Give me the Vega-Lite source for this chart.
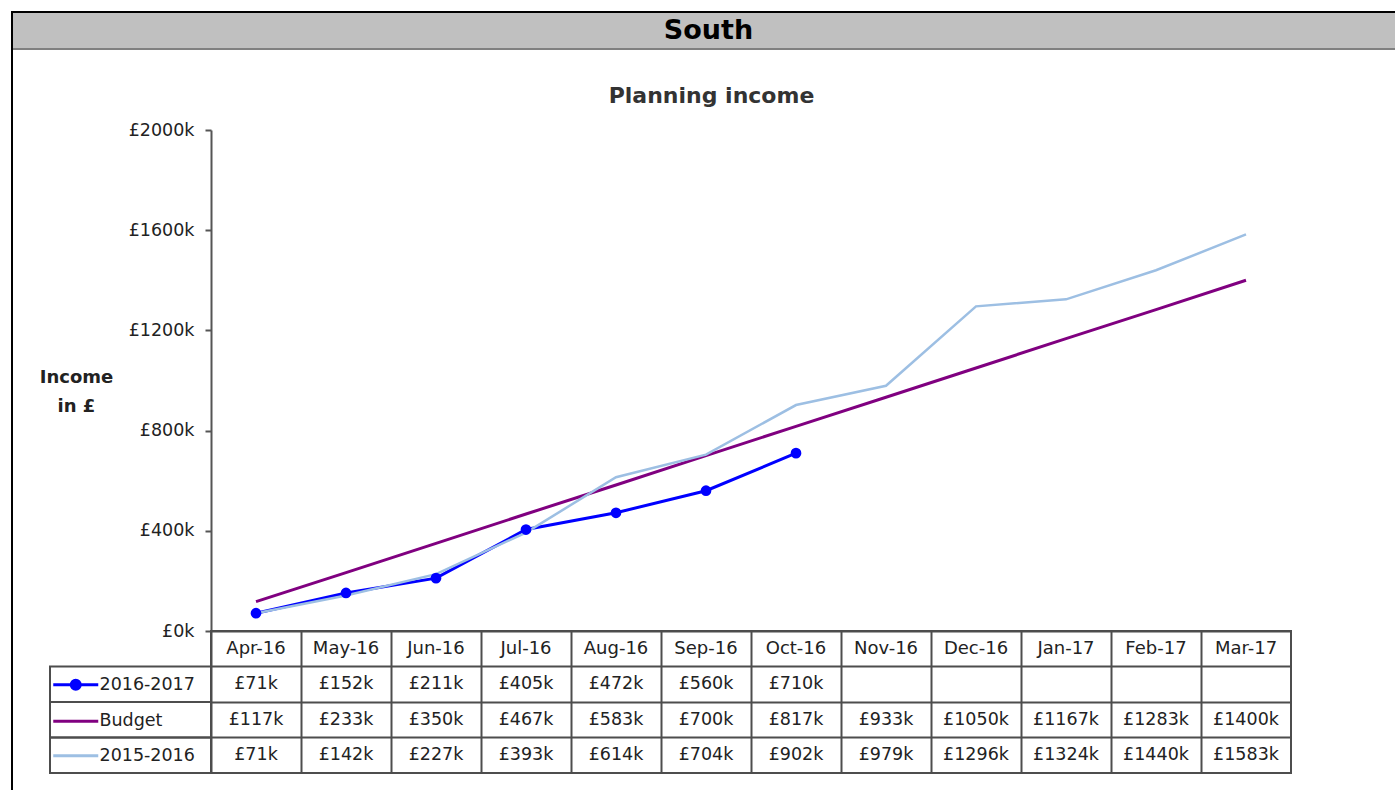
{
  "$schema": "https://vega.github.io/schema/vega-lite/v6.json",
  "background": "white",
  "padding": {"left": 11, "top": 11, "right": 0, "bottom": 0},
  "config": {"font": "DejaVu Sans", "view": {"stroke": null}},
  "datasets": {
    "income": [
      {"month": "Apr-16", "series": "2016-2017", "value": 71},
      {"month": "May-16", "series": "2016-2017", "value": 152},
      {"month": "Jun-16", "series": "2016-2017", "value": 211},
      {"month": "Jul-16", "series": "2016-2017", "value": 405},
      {"month": "Aug-16", "series": "2016-2017", "value": 472},
      {"month": "Sep-16", "series": "2016-2017", "value": 560},
      {"month": "Oct-16", "series": "2016-2017", "value": 710},
      {"month": "Apr-16", "series": "Budget", "value": 117},
      {"month": "May-16", "series": "Budget", "value": 233},
      {"month": "Jun-16", "series": "Budget", "value": 350},
      {"month": "Jul-16", "series": "Budget", "value": 467},
      {"month": "Aug-16", "series": "Budget", "value": 583},
      {"month": "Sep-16", "series": "Budget", "value": 700},
      {"month": "Oct-16", "series": "Budget", "value": 817},
      {"month": "Nov-16", "series": "Budget", "value": 933},
      {"month": "Dec-16", "series": "Budget", "value": 1050},
      {"month": "Jan-17", "series": "Budget", "value": 1167},
      {"month": "Feb-17", "series": "Budget", "value": 1283},
      {"month": "Mar-17", "series": "Budget", "value": 1400},
      {"month": "Apr-16", "series": "2015-2016", "value": 71},
      {"month": "May-16", "series": "2015-2016", "value": 142},
      {"month": "Jun-16", "series": "2015-2016", "value": 227},
      {"month": "Jul-16", "series": "2015-2016", "value": 393},
      {"month": "Aug-16", "series": "2015-2016", "value": 614},
      {"month": "Sep-16", "series": "2015-2016", "value": 704},
      {"month": "Oct-16", "series": "2015-2016", "value": 902},
      {"month": "Nov-16", "series": "2015-2016", "value": 979},
      {"month": "Dec-16", "series": "2015-2016", "value": 1296},
      {"month": "Jan-17", "series": "2015-2016", "value": 1324},
      {"month": "Feb-17", "series": "2015-2016", "value": 1440},
      {"month": "Mar-17", "series": "2015-2016", "value": 1583}
    ]
  },
  "vconcat": [
    {
      "width": 1383, "height": 36,
      "view": {"fill": "#c0c0c0", "stroke": "#000000", "strokeWidth": 2, "strokeDash": [1383, 1419, 36]},
      "data": {"values": [{"t": "South"}]},
      "mark": {"type": "text", "font": "DejaVu Sans", "fontWeight": "bold", "fontSize": 27, "color": "#000000", "align": "center", "baseline": "middle", "dx": 5, "dy": 1},
      "encoding": {"text": {"field": "t"}}
    },
    {
      "width": 1383, "height": 2,
      "view": {"fill": "#808080", "stroke": "#000000", "strokeWidth": 2, "strokeDash": [0, 2768, 2]},
      "data": {"values": []},
      "mark": "rect"
    },
    {
      "width": 1383, "height": 80,
      "view": {"stroke": "#000000", "strokeWidth": 2, "strokeDash": [0, 2846, 80]},
      "data": {"values": [{"t": "Planning income"}]},
      "mark": {"type": "text", "font": "DejaVu Sans", "fontWeight": "bold", "fontSize": 22, "color": "#333333", "align": "center", "baseline": "middle", "dx": 8, "dy": 6},
      "encoding": {"text": {"field": "t"}}
    },
    {
      "width": 1279, "height": 501,
      "view": {"stroke": "#000000", "strokeWidth": 2, "strokeDash": [0, 3059, 501]},
      "data": {"name": "income"},
      "encoding": {
        "x": {"field": "month", "type": "ordinal",
          "sort": ["Apr-16","May-16","Jun-16","Jul-16","Aug-16","Sep-16","Oct-16","Nov-16","Dec-16","Jan-17","Feb-17","Mar-17"],
          "scale": {"type": "point", "padding": 0.5, "range": [199, 1279]}, "axis": null},
        "y": {"field": "value", "type": "quantitative",
          "scale": {"domain": [0, 2000], "nice": false},
          "axis": {
            "offset": -199,
            "values": [0, 400, 800, 1200, 1600, 2000],
            "labelExpr": "'£' + datum.value + 'k'",
            "labelFont": "DejaVu Sans", "labelFontSize": 17.5, "labelColor": "#222222", "labelPadding": 11,
            "tickSize": 6, "tickWidth": 2, "tickColor": "#555555",
            "domainColor": "#555555", "domainWidth": 2, "grid": false,
            "title": ["Income", "in £"], "titleAngle": 0, "titleX": -135, "titleY": 247,
            "titleAlign": "center", "titleBaseline": "middle", "titleLineHeight": 29,
            "titleFont": "DejaVu Sans", "titleFontWeight": "bold", "titleFontSize": 18, "titleColor": "#222222"
          }},
        "color": {"field": "series", "type": "nominal",
          "scale": {"domain": ["2016-2017", "Budget", "2015-2016"], "range": ["#0000ff", "#800080", "#9dbfe3"]},
          "legend": {
            "orient": "none", "legendX": 55, "legendY": 664, "direction": "vertical", "title": null, "padding": 0,
            "rowPadding": 15.5, "labelOffset": 15, "labelFont": "DejaVu Sans", "labelFontSize": 17.5, "labelColor": "#222222", "labelLimit": 300,
            "symbolSize": 100, "symbolStrokeWidth": 3, "symbolOpacity": 1,
            "encode": {"symbols": {"update": {
              "shape": {"signal": "datum.value === '2016-2017' ? 'M-4.5,0H4.5M-0.9,0A0.9,0.9,0,1,0,0.9,0A0.9,0.9,0,1,0,-0.9,0' : 'M-4.5,0H4.5'"},
              "fill": {"signal": "scale('color', datum.value)"},
              "stroke": {"signal": "scale('color', datum.value)"},
              "strokeWidth": {"value": 3},
              "opacity": {"value": 1}
            }}}
          }},
        "order": {"value": null}
      },
      "layer": [
        {"transform": [{"filter": "datum.series === '2016-2017'"}], "mark": {"type": "line", "strokeWidth": 3}},
        {"transform": [{"filter": "datum.series === 'Budget'"}], "mark": {"type": "line", "strokeWidth": 3}},
        {"transform": [{"filter": "datum.series === '2015-2016'"}], "mark": {"type": "line", "strokeWidth": 2.5}},
        {"transform": [{"filter": "datum.series === '2016-2017'"}], "mark": {"type": "point", "filled": true, "size": 115, "opacity": 1}}
      ]
    },
    {
      "hconcat": [
        {
          "width": 38, "height": 159,
          "view": {"stroke": "#000000", "strokeWidth": 2, "strokeDash": [0, 235, 159]},
          "data": {"values": []},
          "mark": "rect"
        },
        {
          "width": 161, "height": 142,
          "data": {"name": "income"},
          "transform": [{"aggregate": [{"op": "count", "as": "n"}], "groupby": ["series"]}],
          "mark": {"type": "rect", "fill": "transparent", "stroke": "#4d4d4d", "strokeWidth": 2},
          "encoding": {
            "y": {"field": "series", "type": "nominal",
              "scale": {"type": "band", "domain": ["Month", "2016-2017", "Budget", "2015-2016"], "paddingInner": 0, "paddingOuter": 0},
              "axis": null}
          }
        },
        {
          "width": 1080, "height": 142,
          "view": {"stroke": "#4d4d4d", "strokeWidth": 2},
          "data": {"name": "income"},
          "transform": [{"calculate": "'£' + datum.value + 'k'", "as": "label"}],
          "encoding": {
            "x": {"field": "month", "type": "ordinal",
              "sort": ["Apr-16","May-16","Jun-16","Jul-16","Aug-16","Sep-16","Oct-16","Nov-16","Dec-16","Jan-17","Feb-17","Mar-17"],
              "scale": {"type": "band", "paddingInner": 0, "paddingOuter": 0},
              "axis": {"orient": "top", "title": null, "labels": false, "ticks": false, "domain": false,
                "grid": true, "bandPosition": 0, "gridColor": "#4d4d4d", "gridWidth": 2, "gridOpacity": 1}}
          },
          "layer": [
            {
              "transform": [{"filter": "datum.series === 'Budget'"}],
              "mark": {"type": "text", "font": "DejaVu Sans", "fontSize": 18, "color": "#222222", "align": "center", "baseline": "middle"},
              "encoding": {
                "y": {"datum": "Month", "type": "nominal",
                  "scale": {"type": "band", "domain": ["Month", "2016-2017", "Budget", "2015-2016"], "paddingInner": 0, "paddingOuter": 0},
                  "axis": {"title": null, "labels": false, "ticks": false, "domain": false, "grid": true, "bandPosition": 0, "gridColor": "#4d4d4d", "gridWidth": 2, "gridOpacity": 1}},
                "text": {"field": "month"}
              }
            },
            {
              "mark": {"type": "text", "font": "DejaVu Sans", "fontSize": 17.5, "color": "#222222", "align": "center", "baseline": "middle"},
              "encoding": {
                "y": {"field": "series", "type": "nominal",
                  "scale": {"type": "band", "domain": ["Month", "2016-2017", "Budget", "2015-2016"], "paddingInner": 0, "paddingOuter": 0},
                  "axis": {"title": null, "labels": false, "ticks": false, "domain": false, "grid": true, "bandPosition": 0, "gridColor": "#4d4d4d", "gridWidth": 2, "gridOpacity": 1}},
                "text": {"field": "label"}
              }
            }
          ]
        }
      ],
      "spacing": 0, "bounds": "flush"
    }
  ],
  "spacing": 0,
  "bounds": "flush"
}
